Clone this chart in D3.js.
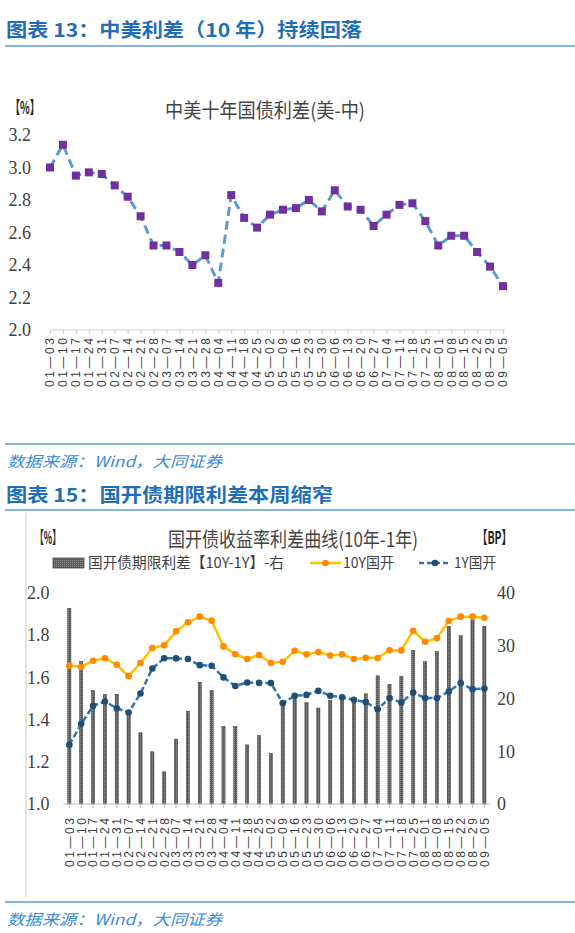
<!DOCTYPE html>
<html>
<head>
<meta charset="utf-8">
<script src="https://cdnjs.cloudflare.com/ajax/libs/d3/7.8.5/d3.min.js"></script>
<style>
  body { margin: 0; background: #fff; }
  svg { display: block; }
</style>
</head>
<body>
<div id="page"></div>
<script>
// fechas del eje x (compartidas por los dos gráficos)
var fechas = ["01-03","01-10","01-17","01-24","01-31","02-07","02-14","02-21","02-28",
  "03-07","03-14","03-21","03-28","04-04","04-11","04-18","04-25","05-02","05-09",
  "05-16","05-23","05-30","06-06","06-13","06-20","06-27","07-04","07-11","07-18",
  "07-25","08-01","08-08","08-15","08-22","08-29","09-05"];

// gráfico 13: 中美十年国债利差
var diferencial = [3.00,3.14,2.95,2.97,2.96,2.89,2.82,2.70,2.52,2.52,2.48,2.40,2.46,2.29,
  2.83,2.69,2.63,2.71,2.74,2.75,2.80,2.73,2.86,2.76,2.74,2.64,2.71,2.77,2.78,2.67,
  2.52,2.58,2.58,2.48,2.39,2.27];
var ticksArriba = [2.0,2.2,2.4,2.6,2.8,3.0,3.2];

// gráfico 15: 国开债
var diezY = [1.655,1.650,1.679,1.691,1.660,1.606,1.668,1.739,1.752,1.818,1.861,1.888,
  1.869,1.747,1.710,1.687,1.706,1.668,1.674,1.726,1.710,1.720,1.704,1.709,1.687,1.693,
  1.692,1.729,1.728,1.821,1.769,1.786,1.867,1.888,1.888,1.883];
var unoY = [1.280,1.380,1.465,1.486,1.454,1.434,1.524,1.642,1.691,1.690,1.687,1.658,
  1.655,1.600,1.559,1.576,1.574,1.573,1.478,1.513,1.517,1.536,1.513,1.506,1.494,1.483,
  1.449,1.502,1.481,1.528,1.502,1.502,1.533,1.573,1.544,1.547];
var spreadBP = [37.1,27.0,21.5,20.8,20.8,17.2,13.5,9.9,6.1,12.3,17.6,23.1,21.5,14.7,
  14.7,11.2,13.0,9.6,19.1,20.7,19.2,18.2,19.7,20.4,20.1,20.9,24.3,22.7,24.2,29.1,
  27.0,28.9,33.7,31.9,34.9,33.7];
var ticksIzq = [1.0,1.2,1.4,1.6,1.8,2.0];
var ticksDer = [0,10,20,30,40];

var w = 575, h = 933;
var cjk = "'Noto Sans CJK SC', sans-serif";
var serif = "'Liberation Serif', 'DejaVu Serif', serif";
var azul = "#1F6EB8";
var azulLinea = "#5B9BD5";

var svg = d3.select("#page").append("svg")
    .attr("width", w)
    .attr("height", h);

var defs = svg.append("defs");
var pat = defs.append("pattern")
    .attr("id", "puntos")
    .attr("width", 2).attr("height", 2)
    .attr("patternUnits", "userSpaceOnUse");
pat.append("rect").attr("width", 2).attr("height", 2).attr("fill", "#5c5c5c");
pat.append("rect").attr("width", 1).attr("height", 1).attr("fill", "#909090");

// cabeceras, separadores y fuentes
function cabecera(texto, yc, yl, largo) {
    svg.append("text")
        .attr("x", 6).attr("y", yc).attr("dy", "0.36em")
        .attr("font-family", cjk).attr("font-weight", "bold")
        .attr("font-size", 19).attr("fill", azul)
        .attr("textLength", largo).attr("lengthAdjust", "spacingAndGlyphs")
        .text(texto);
    svg.append("line")
        .attr("x1", 5).attr("x2", w).attr("y1", yl).attr("y2", yl)
        .attr("stroke", azulLinea).attr("stroke-width", 1.6);
}
function fuente(yl, yt) {
    svg.append("line")
        .attr("x1", 5).attr("x2", w).attr("y1", yl).attr("y2", yl)
        .attr("stroke", azulLinea).attr("stroke-width", 1.6);
    svg.append("text")
        .attr("x", 7).attr("y", yt).attr("dy", "0.36em")
        .attr("font-family", cjk).attr("font-style", "italic")
        .attr("font-size", 15).attr("fill", "#3D8BD6")
        .attr("textLength", 215).attr("lengthAdjust", "spacingAndGlyphs")
        .text("数据来源：Wind，大同证券");
}
cabecera("图表 13：中美利差（10 年）持续回落", 30, 46, 356);
fuente(444, 462);
cabecera("图表 15：国开债期限利差本周缩窄", 495, 510, 327);
fuente(902, 920);

function etiquetasX(x, y0, offset) {
    svg.append("g").selectAll("text")
        .data(fechas)
        .enter()
        .append("text")
        .attr("transform", function (d) {
            return "translate(" + (x(d) + offset) + "," + y0 + ") rotate(-90)";
        })
        .attr("dy", "0.36em")
        .attr("text-anchor", "end")
        .attr("font-family", "'Liberation Sans', Arial, sans-serif")
        .attr("font-size", 12).attr("fill", "#404040")
        .attr("textLength", 49).attr("lengthAdjust", "spacing")
        .text(function (d) { return d.replace("-", "—"); });
}

function corchete(texto, xx, yy, largo) {
    svg.append("text")
        .attr("x", xx).attr("y", yy).attr("dy", "0.36em")
        .attr("font-family", cjk).attr("font-weight", "bold")
        .attr("font-size", 17).attr("fill", "#222")
        .attr("textLength", largo).attr("lengthAdjust", "spacingAndGlyphs")
        .text(texto);
}

//----------------------------------------------------------------------------
// gráfico 13
var x1 = d3.scalePoint().domain(fechas).range([50, 503]);
var y1 = d3.scaleLinear().domain([2.0, 3.2]).range([330, 135]);

corchete("【%】", 10, 108, 30);
svg.append("text")
    .attr("x", 265).attr("y", 111).attr("dy", "0.36em")
    .attr("text-anchor", "middle")
    .attr("font-family", cjk).attr("font-size", 20).attr("fill", "#444")
    .attr("textLength", 200).attr("lengthAdjust", "spacingAndGlyphs")
    .text("中美十年国债利差(美-中)");

var ejeY1 = svg.append("g")
    .attr("transform", "translate(31,0)")
    .call(d3.axisLeft(y1).tickValues(ticksArriba).tickFormat(d3.format(".1f")).tickSize(0).tickPadding(0));
ejeY1.select(".domain").remove();
ejeY1.selectAll("text")
    .attr("font-family", serif).attr("font-size", 18).attr("fill", "#404040");

var ejeX1 = svg.append("g")
    .attr("transform", "translate(0,330)")
    .call(d3.axisBottom(x1).tickSize(4).tickFormat(""));
ejeX1.select(".domain").attr("d", "M49.5,0H505").attr("stroke", "#d0d0d0");
ejeX1.selectAll(".tick line").attr("stroke", "#d0d0d0");
etiquetasX(x1, 338, 0);

var linea1 = d3.line()
    .x(function (d, i) { return x1(fechas[i]); })
    .y(function (d) { return y1(d); });
svg.append("path")
    .datum(diferencial)
    .attr("fill", "none")
    .attr("stroke", "#5B9BD5")
    .attr("stroke-width", 3)
    .attr("stroke-dasharray", "9,5")
    .attr("d", linea1);
svg.append("g").selectAll("rect")
    .data(diferencial)
    .enter()
    .append("rect")
    .attr("x", function (d, i) { return x1(fechas[i]) - 4; })
    .attr("y", function (d) { return y1(d) - 4; })
    .attr("width", 8).attr("height", 8)
    .attr("fill", "#7030A0");

//----------------------------------------------------------------------------
// gráfico 15
svg.append("line")
    .attr("x1", 26).attr("x2", 26).attr("y1", 513).attr("y2", 897)
    .attr("stroke", "#c8c8c8").attr("stroke-width", 1);

var x2 = d3.scaleBand().domain(fechas).range([63.4, 490.3]);
var yIzq = d3.scaleLinear().domain([1.0, 2.0]).range([804, 593]);
var yDer = d3.scaleLinear().domain([0, 40]).range([804, 593]);
var bw = x2.bandwidth();

corchete("【%】", 35, 538, 26);
corchete("【BP】", 477, 538, 35);
svg.append("text")
    .attr("x", 293).attr("y", 540).attr("dy", "0.36em")
    .attr("text-anchor", "middle")
    .attr("font-family", cjk).attr("font-size", 20).attr("fill", "#444")
    .attr("textLength", 250).attr("lengthAdjust", "spacingAndGlyphs")
    .text("国开债收益率利差曲线(10年-1年)");

// leyenda
var ley = svg.append("g").attr("font-family", cjk).attr("font-size", 15).attr("fill", "#404040");
ley.append("rect")
    .attr("x", 53).attr("y", 558).attr("width", 31).attr("height", 10)
    .attr("fill", "url(#puntos)").attr("stroke", "#444").attr("stroke-width", 0.8);
ley.append("text").attr("x", 88).attr("y", 563).attr("dy", "0.36em")
    .attr("textLength", 196).attr("lengthAdjust", "spacingAndGlyphs")
    .text("国开债期限利差【10Y-1Y】-右");
ley.append("line").attr("x1", 310).attr("x2", 341).attr("y1", 563).attr("y2", 563)
    .attr("stroke", "#FFC000").attr("stroke-width", 2.5);
ley.append("circle").attr("cx", 325.5).attr("cy", 563).attr("r", 3.3).attr("fill", "#FF8A00");
ley.append("text").attr("x", 343).attr("y", 563).attr("dy", "0.36em")
    .attr("textLength", 51).attr("lengthAdjust", "spacingAndGlyphs")
    .text("10Y国开");
ley.append("line").attr("x1", 419).attr("x2", 451).attr("y1", 563).attr("y2", 563)
    .attr("stroke", "#2E75B6").attr("stroke-width", 2.5).attr("stroke-dasharray", "5,3");
ley.append("circle").attr("cx", 435).attr("cy", 563).attr("r", 3.3).attr("fill", "#1F4E79");
ley.append("text").attr("x", 454).attr("y", 563).attr("dy", "0.36em")
    .attr("textLength", 42).attr("lengthAdjust", "spacingAndGlyphs")
    .text("1Y国开");

// ejes
var ejeI = svg.append("g")
    .attr("transform", "translate(49.5,0)")
    .call(d3.axisLeft(yIzq).tickValues(ticksIzq).tickFormat(d3.format(".1f")).tickSize(0).tickPadding(0));
ejeI.select(".domain").remove();
ejeI.selectAll("text").attr("font-family", serif).attr("font-size", 18).attr("fill", "#404040");

var ejeD = svg.append("g")
    .attr("transform", "translate(497,0)")
    .call(d3.axisRight(yDer).tickValues(ticksDer).tickSize(0).tickPadding(0));
ejeD.select(".domain").remove();
ejeD.selectAll("text").attr("font-family", serif).attr("font-size", 18).attr("fill", "#404040");

// barras (eje derecho)
svg.append("g").selectAll("rect")
    .data(spreadBP)
    .enter()
    .append("rect")
    .attr("x", function (d, i) { return x2(fechas[i]) + bw / 2 - 1.6; })
    .attr("y", function (d) { return yDer(d); })
    .attr("width", 3.2)
    .attr("height", function (d) { return yDer(0) - yDer(d); })
    .attr("fill", "url(#puntos)")
    .attr("stroke", "#3c3c3c").attr("stroke-width", 0.5);

var ejeX2 = svg.append("g")
    .attr("transform", "translate(0,804)")
    .call(d3.axisBottom(x2).tickSize(4).tickFormat(""));
ejeX2.select(".domain").attr("d", "M63.4,0H490.3").attr("stroke", "#c0c0c0");
ejeX2.selectAll(".tick line").attr("stroke", "#c0c0c0");
etiquetasX(x2, 818, bw / 2);

// líneas 10Y y 1Y
var cx = function (d, i) { return x2(fechas[i]) + bw / 2; };
var linea10 = d3.line().x(cx).y(function (d) { return yIzq(d); });
svg.append("path")
    .datum(diezY)
    .attr("fill", "none").attr("stroke", "#FFC000").attr("stroke-width", 2.5)
    .attr("d", linea10);
svg.append("g").selectAll("circle")
    .data(diezY).enter().append("circle")
    .attr("cx", cx).attr("cy", function (d) { return yIzq(d); })
    .attr("r", 3.3).attr("fill", "#FF8A00");

svg.append("path")
    .datum(unoY)
    .attr("fill", "none").attr("stroke", "#2E75B6").attr("stroke-width", 2.5)
    .attr("stroke-dasharray", "6,3")
    .attr("d", linea10);
svg.append("g").selectAll("circle")
    .data(unoY).enter().append("circle")
    .attr("cx", cx).attr("cy", function (d) { return yIzq(d); })
    .attr("r", 3.3).attr("fill", "#1F4E79");
</script>
</body>
</html>
